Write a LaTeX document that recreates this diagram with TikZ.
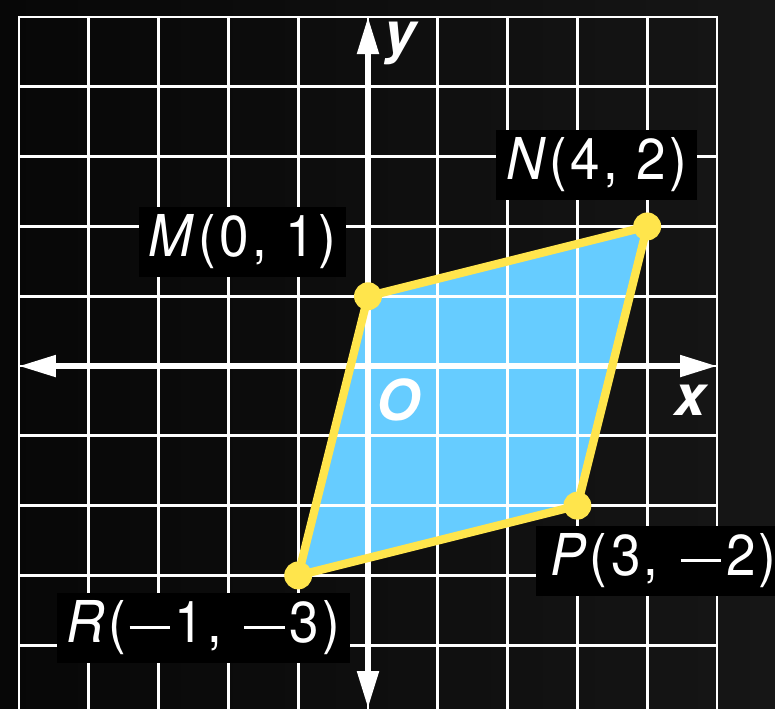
\documentclass[tikz,border=0pt]{standalone}
\usepackage{fontspec}
\setmainfont{TeX Gyre Heros}[FakeStretch=0.92, LetterSpace=6]
\newfontfamily\axfont{TeX Gyre Heros}
\usetikzlibrary{arrows.meta}
\definecolor{bgL}{HTML}{070707}
\definecolor{bgR}{HTML}{161616}
\definecolor{fillblue}{HTML}{66CCFF}
\definecolor{ptyellow}{HTML}{FFE54C}
\newcommand\mns{\hspace{1.5pt}\rule[5.5pt]{16.5pt}{1.4pt}\hspace{2pt}}
\begin{document}
\begin{tikzpicture}[
  gridline/.style={white, line width=1.1pt, line cap=rect},
  axisline/.style={white, line width=2.2pt, {Triangle[length=0.53cm,width=0.3cm]}-{Triangle[length=0.53cm,width=0.3cm]}},
  edge/.style={ptyellow, line width=3.4pt, line join=round},
  ptdot/.style={circle, fill=ptyellow, inner sep=0pt, minimum size=0.4cm},
  lbl/.style={fill=black, text=white, inner xsep=4pt, inner ysep=2pt, minimum height=1cm, font=\fontsize{23.5}{28}\selectfont},
  axlbl/.style={text=white, font=\axfont\fontsize{23}{28}\selectfont\bfseries\itshape, inner sep=0pt}
]
\useasboundingbox (-5.272,-4.900) rectangle (5.831,5.244);
\shade[left color=bgL, right color=bgR] (-5.272,-4.900) rectangle (5.831,5.244);
\coordinate (M) at (0,1);
\coordinate (N) at (4,2);
\coordinate (P) at (3,-2);
\coordinate (R) at (-1,-3);
\fill[fillblue] (M) -- (N) -- (P) -- (R) -- cycle;
\foreach \x in {-5,...,5} \draw[gridline] (\x,5) -- (\x,-4.95);
\foreach \y in {-4,...,5} \draw[gridline] (-5,\y) -- (5,\y);
\coordinate (xl) at (-5,0);
\coordinate (xr) at (5,0);
\coordinate (yt) at (0,5);
\coordinate (yb) at (0,-4.9);
\draw[axisline] (xl) -- (xr);
\draw[axisline] (yb) -- (yt);
\draw[edge] (M) -- (N) -- (P) -- (R) -- cycle;
\node[ptdot] (Md) at (M) {};
\node[ptdot] (Nd) at (N) {};
\node[ptdot] (Pd) at (P) {};
\node[ptdot] (Rd) at (R) {};
\node[lbl] (Ml) at (-1.80,1.777) {\raisebox{-1.5pt}{\textit{M}(0, 1)}};
\node[lbl] (Nl) at (3.274,2.880) {\raisebox{-1.5pt}{\textit{N}(4, 2)}};
\node[lbl, anchor=west, inner xsep=6pt] (Pl) at (2.393,-2.794) {\raisebox{-1.5pt}{\textit{P}(3, \mns2)}};
\node[lbl] (Rl) at (-2.357,-3.754) {\raisebox{-1.5pt}{\textit{R}(\mns1, \mns3)}};
\node[axlbl] (xlab) at (4.61,-0.49) {x};
\node[axlbl] (ylab) at (0.46,4.62) {y};
\node[axlbl] (olab) at (0.43,-0.49) {O};
\end{tikzpicture}
\end{document}
